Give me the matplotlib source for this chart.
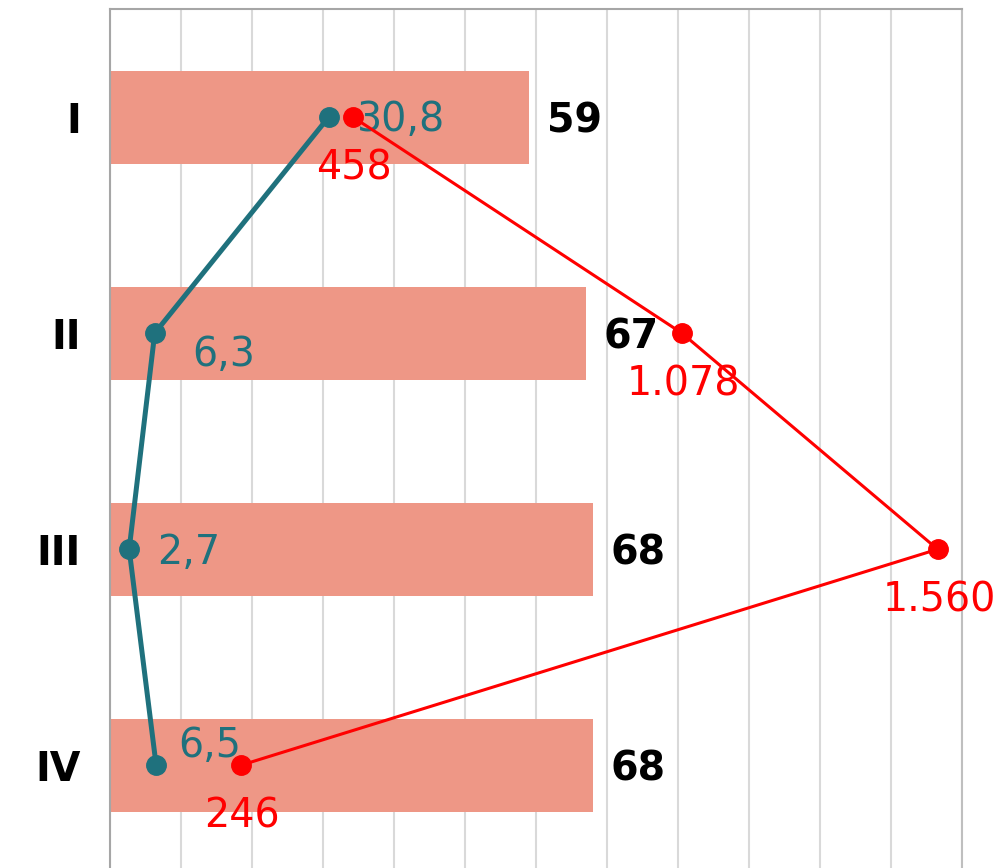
import numpy as np
import matplotlib.pyplot as plt

# data
categories = ['I', 'II', 'III', 'IV']
bar_values = [59, 67, 68, 68]
teal_values = [30.8, 6.3, 2.7, 6.5]
teal_labels = ['30,8', '6,3', '2,7', '6,5']
red_values = [458, 1078, 1560, 246]
red_labels = ['458', '1.078', '1.560', '246']

bar_color = '#EE9786'
teal = '#1F717D'
red = '#FF0000'
fs = 28.5

fig = plt.figure(figsize=(10.01, 8.68), dpi=100)
ax = fig.add_axes([110/1001, 0, 852/1001, 859/868])
y = np.arange(len(categories))

ax.barh(y, bar_values, height=0.43, color=bar_color, zorder=2)
ax.set_xlim(0, 120)
ax.set_ylim(3.475, -0.5)
ax.set_xticks(np.arange(0, 121, 10))
ax.xaxis.grid(True, color='#D9D9D9', linewidth=1.5, zorder=0)
ax.set_axisbelow(True)
ax.tick_params(axis='x', length=0, labelbottom=False)
ax.tick_params(axis='y', length=0, pad=21)
ax.set_yticks(y)
ax.set_yticklabels(categories, fontsize=fs, fontweight='bold')
for s in ['left', 'top', 'right']:
    ax.spines[s].set_color('#A6A6A6')
    ax.spines[s].set_linewidth(1.5)
ax.spines['right'].set_color('#BFBFBF')
ax.spines['bottom'].set_visible(False)

# bar value labels
for yi, v in zip(y, bar_values):
    ax.annotate(str(v), (v, yi), xytext=(13, -3), textcoords='offset points',
                ha='left', va='center', fontsize=fs, fontweight='bold', color='black', zorder=5)

# teal line on primary axis
ax.plot(teal_values, y, color=teal, linewidth=3.6, marker='o', markersize=14, zorder=4)
teal_off = [(20, -2), (27, -16), (20, -3), (16, 14)]
for yi, v, lab, off in zip(y, teal_values, teal_labels, teal_off):
    ax.annotate(lab, (v, yi), xytext=off, textcoords='offset points',
                ha='left', va='center', fontsize=fs, color=teal, zorder=4)

# red line on secondary axis
ax2 = ax.twiny()
ax2.set_xlim(0, 1606)
ax2.set_ylim(3.475, -0.5)
ax2.set_xticks([])
for s in ax2.spines.values():
    s.set_visible(False)
ax2.plot(red_values, y, color=red, linewidth=2.2, marker='o', markersize=14, zorder=5)
for yi, v, lab in zip(y, red_values, red_labels):
    ax2.annotate(lab, (v, yi), xytext=(1, -37), textcoords='offset points',
                 ha='center', va='center', fontsize=fs, color=red, zorder=3)

fig.savefig('out.png', dpi=100)
